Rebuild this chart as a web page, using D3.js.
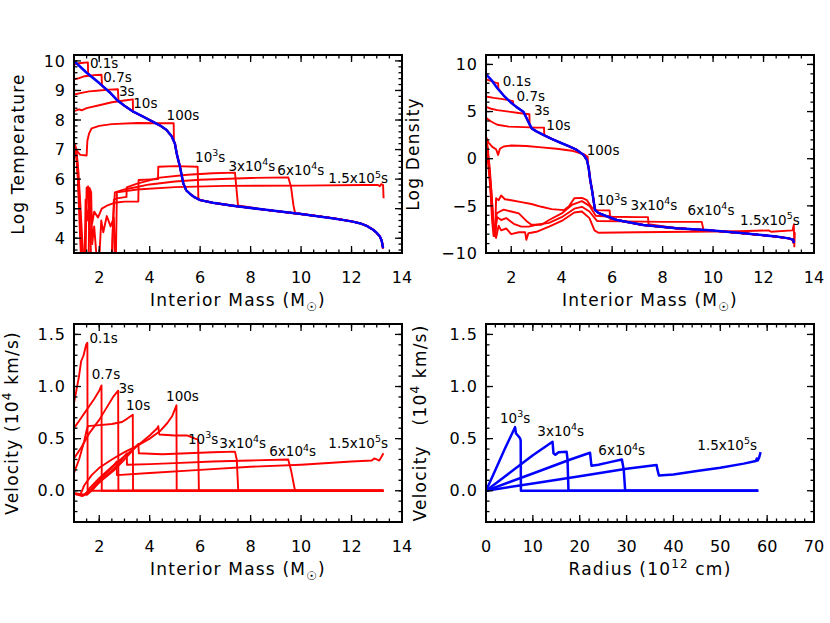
<!DOCTYPE html>
<html>
<head>
<meta charset="utf-8">
<script src="https://cdn.jsdelivr.net/npm/d3@7"></script>
<style>
body{margin:0;background:#fff;}
text{font-family:"DejaVu Sans",sans-serif;fill:#000;}
</style>
</head>
<body>
<div id="chart"></div>
<script>
// ---- values ----
var timeLabels = ['0.1s','0.7s','3s','10s','100s','10^3s','3x10^4s','6x10^4s','1.5x10^5s'];
var lateLabels = ['10^3s','3x10^4s','6x10^4s','1.5x10^5s'];

// tick labels
var massTicks = [2,4,6,8,10,12,14];
var tempTicks = [4,5,6,7,8,9,10];
var densTicks = [-10,-5,0,5,10];
var velTicks = [0,0.5,1.0,1.5];
var radTicks = [0,10,20,30,40,50,60,70];

// progenitor (blue), log T vs interior mass
var progMassT = [1.0,1.1,1.5,2.0,2.4,2.7,3.0,3.35,3.7,4.0,4.4,4.67,4.87,5.0,5.07,5.14,5.2,5.27,5.33,5.45,5.6,5.75,6.0,6.5,7.3,8.6,10.0,11.3,12.0,12.35,12.6,12.87,13.0,13.13,13.2,13.25];
var progLogT = [9.98,9.92,9.6,9.25,8.95,8.68,8.48,8.28,8.13,8.0,7.82,7.66,7.45,7.2,6.87,6.62,6.42,6.12,5.86,5.62,5.5,5.4,5.29,5.2,5.1,4.96,4.82,4.67,4.57,4.5,4.42,4.28,4.18,4.05,3.9,3.66];

// progenitor (blue), log density vs interior mass
var progMassD = [1.0,1.2,1.45,1.7,1.95,2.2,2.48,2.61,2.72,2.81,3.0,3.27,3.6,4.0,4.3,4.6,4.87,5.0,5.07,5.13,5.2,5.26,5.32,5.45,5.65,6.18,7.23,8.55,9.87,11.2,12.5,13.0,13.18,13.2];
var progLogRho = [8.95,8.4,7.47,6.7,6.05,5.5,4.99,4.29,3.7,3.22,2.9,2.52,2.1,1.64,1.3,0.93,0.4,-0.13,-1.0,-2.26,-3.3,-4.38,-5.44,-5.75,-5.97,-6.5,-7.03,-7.38,-7.6,-7.9,-8.26,-8.45,-8.6,-8.95];

// log T at each time [mass, logT]
var temp_0p1s = [[1.0,9.88],[1.2,9.92],[1.37,9.94],[1.55,9.95],[1.56,9.58]];
var temp_0p7s = [[1.0,9.38],[1.2,9.42],[1.4,9.48],[1.63,9.5],[1.8,9.52],[2.09,9.53],[2.11,9.17]];
var temp_3s = [[1.0,8.86],[1.3,8.92],[1.6,8.97],[2.0,9.0],[2.4,9.03],[2.74,9.04],[2.76,8.68]];
var temp_10s = [[1.0,8.3],[1.2,8.36],[1.3,8.33],[1.5,8.4],[2.0,8.5],[2.5,8.6],[3.0,8.66],[3.33,8.7],[3.34,8.27]];
var temp_100s = [[1.0,7.25],[1.12,6.95],[1.25,6.82],[1.5,6.8],[1.53,7.3],[1.6,7.55],[1.7,7.72],[2.0,7.8],[2.5,7.86],[3.5,7.9],[4.5,7.89],[4.95,7.89],[4.96,7.3]];
var temp_1e3s = [[1.0,7.05],[1.1,6.95],[1.18,6.2],[1.26,5.0],[1.33,3.9],[1.38,3.3],[1.46,3.3],[1.5,5.7],[1.56,5.75],[1.6,4.3],[1.66,5.1],[1.72,4.5],[1.8,4.9],[1.95,4.7],[2.1,5.0],[2.3,5.1],[2.6,5.2],[3.0,5.24],[3.55,5.24],[3.56,5.97],[4.33,6.0],[4.34,6.42],[5.0,6.44],[5.9,6.42],[5.93,5.33]];
var temp_3e4s = [[1.0,6.95],[1.12,6.7],[1.2,5.6],[1.28,4.2],[1.33,3.3],[1.58,3.3],[1.62,5.7],[1.68,5.55],[1.72,3.8],[1.8,4.4],[1.9,3.3],[2.5,3.3],[2.58,5.3],[2.7,5.35],[3.08,5.4],[3.09,5.72],[3.5,5.85],[4.4,6.05],[5.5,6.15],[6.5,6.2],[7.38,6.22],[7.5,5.11]];
var temp_6e4s = [[1.0,7.0],[1.1,6.8],[1.2,5.4],[1.28,3.8],[1.32,3.3],[1.42,3.3],[1.46,5.3],[1.52,4.6],[1.6,5.1],[1.68,3.3],[2.5,3.3],[2.55,4.6],[2.62,5.55],[3.0,5.65],[4.0,5.82],[5.0,5.92],[6.0,5.98],[8.0,6.04],[9.49,6.06],[9.6,5.75],[9.7,5.1],[9.76,4.86]];
var temp_1p5e5s = [[1.0,7.0],[1.08,6.9],[1.15,6.1],[1.22,4.5],[1.28,3.3],[2.0,3.3],[2.08,4.6],[2.16,4.2],[2.3,4.75],[2.45,4.4],[2.58,4.7],[2.62,3.3],[2.66,3.3],[2.7,5.55],[3.5,5.65],[5.0,5.73],[7.0,5.77],[10.0,5.78],[12.5,5.8],[13.05,5.8],[13.12,5.76],[13.18,5.83],[13.25,5.8],[13.27,5.35]];

// log density at each time [mass, logRho]
var dens_0p1s = [[1.0,8.4],[1.2,8.25],[1.4,8.05],[1.48,8.0],[1.49,7.45]];
var dens_0p7s = [[1.0,6.6],[1.3,6.45],[1.6,6.35],[1.9,6.22],[2.07,6.1],[2.08,5.75]];
var dens_3s = [[1.0,5.5],[1.2,5.3],[1.45,5.15],[1.9,5.0],[2.3,4.85],[2.72,4.72],[2.73,3.55]];
var dens_10s = [[1.0,4.35],[1.2,3.95],[1.45,3.6],[1.9,3.4],[2.5,3.35],[3.0,3.3],[3.3,3.3],[3.31,2.5]];
var dens_100s = [[1.0,2.3],[1.1,1.7],[1.25,1.25],[1.4,1.0],[1.48,0.4],[1.55,1.05],[1.7,1.3],[2.0,1.4],[2.6,1.35],[3.2,1.2],[3.8,1.05],[4.4,0.85],[4.9,0.45],[5.03,0.2],[5.04,-0.5]];
var dens_1e3s = [[1.0,2.4],[1.08,1.0],[1.16,-2.5],[1.24,-6.5],[1.3,-8.2],[1.36,-8.2],[1.4,-4.2],[1.5,-4.4],[1.6,-3.9],[1.75,-4.3],[2.0,-4.4],[2.4,-4.6],[2.8,-4.8],[3.2,-5.1],[3.6,-5.35],[4.1,-5.45],[4.3,-5.0],[4.5,-4.2],[4.8,-4.15],[5.0,-4.4],[5.2,-5.2],[5.4,-5.45],[5.9,-5.5],[5.92,-6.4]];
var dens_3e4s = [[1.0,2.2],[1.15,-1.0],[1.25,-5.0],[1.32,-7.8],[1.38,-8.2],[1.42,-5.8],[1.55,-5.6],[1.7,-5.4],[2.0,-5.6],[2.3,-5.8],[2.6,-6.6],[2.8,-7.0],[3.2,-7.0],[3.5,-6.5],[4.0,-5.8],[4.4,-4.9],[4.8,-4.5],[5.1,-5.0],[5.35,-6.05],[6.0,-6.15],[7.0,-6.2],[7.42,-6.2],[7.44,-6.95]];
var dens_6e4s = [[1.0,2.1],[1.2,-3.0],[1.3,-7.0],[1.36,-7.6],[1.45,-6.2],[1.6,-6.5],[1.8,-6.3],[2.1,-6.9],[2.4,-7.2],[2.7,-7.2],[3.0,-7.0],[3.5,-6.8],[4.0,-6.2],[4.5,-5.3],[4.8,-5.1],[5.1,-5.6],[5.4,-6.6],[6.5,-6.65],[8.0,-6.7],[9.55,-6.7],[9.62,-7.55]];
var dens_1p5e5s = [[1.0,2.0],[1.22,-4.5],[1.32,-7.9],[1.4,-8.4],[1.5,-7.1],[1.6,-7.6],[1.8,-7.4],[2.0,-8.0],[2.3,-7.8],[2.55,-7.8],[2.6,-8.6],[2.68,-7.9],[3.0,-7.75],[3.5,-7.2],[4.0,-6.6],[4.5,-5.7],[4.8,-5.6],[5.1,-6.3],[5.3,-7.6],[5.45,-7.85],[7.0,-7.8],[9.0,-7.75],[11.0,-7.7],[12.2,-7.6],[12.3,-7.75],[13.15,-7.6],[13.2,-7.0],[13.22,-9.3],[13.24,-7.8]];

// velocity (10^4 km/s) vs interior mass
var vel_0p1s = [[1.0,0.84],[1.1,0.97],[1.2,1.1],[1.28,1.24],[1.38,1.3],[1.48,1.4],[1.53,1.42],[1.54,0.0],[13.26,0.0]];
var vel_0p7s = [[1.0,0.6],[1.2,0.67],[1.4,0.74],[1.6,0.81],[1.8,0.88],[2.0,0.96],[2.09,1.01],[2.1,0.0],[13.26,0.0]];
var vel_3s = [[1.0,0.31],[1.3,0.42],[1.6,0.55],[2.0,0.68],[2.3,0.8],[2.55,0.9],[2.75,0.96],[2.76,0.0],[13.26,0.0]];
var vel_10s = [[1.0,0.17],[1.2,0.3],[1.4,0.47],[1.5,0.58],[1.55,0.62],[2.0,0.63],[2.5,0.64],[2.9,0.66],[3.1,0.69],[3.33,0.73],[3.34,0.0],[13.26,0.0]];
var vel_100s = [[1.0,-0.03],[1.25,-0.04],[1.4,0.05],[1.7,0.15],[2.0,0.22],[2.5,0.3],[3.0,0.37],[3.5,0.43],[4.0,0.5],[4.4,0.57],[4.7,0.65],[4.9,0.72],[5.06,0.82],[5.07,0.0],[13.26,0.0]];
var vel_1e3s = [[1.0,-0.03],[1.2,-0.03],[1.35,-0.05],[1.5,-0.02],[1.6,0.02],[2.0,0.12],[2.5,0.23],[3.0,0.33],[3.5,0.43],[4.0,0.53],[4.3,0.6],[4.34,0.62],[4.38,0.54],[5.0,0.53],[5.5,0.53],[5.8,0.5],[5.92,0.49],[5.95,0.0],[13.26,0.0]];
var vel_3e4s = [[1.0,-0.02],[1.4,-0.04],[1.6,-0.01],[1.8,0.04],[2.2,0.12],[2.6,0.2],[3.0,0.3],[3.3,0.38],[3.55,0.45],[3.57,0.36],[4.5,0.35],[5.5,0.36],[6.5,0.37],[7.38,0.375],[7.45,0.3],[7.51,0.0],[13.26,0.0]];
var vel_6e4s = [[1.0,-0.03],[1.5,-0.04],[1.7,0.0],[2.0,0.08],[2.4,0.17],[2.8,0.27],[3.09,0.36],[3.1,0.25],[4.0,0.255],[5.0,0.265],[6.5,0.28],[8.0,0.29],[9.49,0.3],[9.6,0.2],[9.76,0.0],[13.26,0.0]];
var vel_1p5e5s = [[1.0,-0.03],[1.3,-0.05],[1.5,-0.02],[1.7,0.02],[2.0,0.1],[2.3,0.17],[2.6,0.25],[2.69,0.28],[2.7,0.15],[4.0,0.17],[6.0,0.2],[8.0,0.23],[10.0,0.25],[12.0,0.28],[12.8,0.29],[12.9,0.31],[13.0,0.3],[13.1,0.29],[13.2,0.33],[13.26,0.36]];

// velocity vs radius (10^12 cm)
var vrad_1e3s = [[0,0],[2,0.2],[4,0.4],[6.0,0.59],[6.2,0.61],[6.4,0.55],[6.6,0.54],[7.0,0.52],[7.3,0.5],[7.4,0.48],[7.45,0.0],[58.1,0.0]];
var vrad_3e4s = [[0,0],[5,0.17],[10,0.34],[14.2,0.47],[14.4,0.36],[14.8,0.345],[15.5,0.37],[17.2,0.375],[17.4,0.3],[17.6,0.0],[58.1,0.0]];
var vrad_6e4s = [[0,0],[10,0.165],[18,0.3],[22.2,0.365],[22.5,0.24],[24,0.25],[26,0.27],[29.0,0.3],[29.4,0.2],[29.7,0.0],[58.1,0.0]];
var vrad_1p5e5s = [[0,0],[10,0.07],[20,0.14],[30,0.21],[36.4,0.247],[36.6,0.2],[36.9,0.146],[40,0.155],[45,0.19],[50,0.22],[55,0.26],[57.6,0.285],[57.8,0.31],[58.0,0.29],[58.3,0.32],[58.6,0.37]];

// label anchors (data units)
var labelMassT = [1.63,2.16,2.78,3.35,4.67,5.80,7.12,9.06,11.08];
var labelLogT = [9.76,9.29,8.80,8.40,8.0,6.59,6.27,6.14,5.86];
var labelMassD = [1.66,2.21,2.90,3.39,4.99,5.40,6.73,8.99,11.07];
var labelLogRho = [7.71,6.15,4.64,3.05,0.40,-4.96,-5.44,-5.97,-7.03];
var labelMassV = [1.61,1.70,2.76,3.06,4.65,5.52,6.76,8.74,11.08];
var labelVel = [1.415,1.07,0.94,0.77,0.86,0.45,0.41,0.33,0.41];
var labelRad = [2.99,10.95,23.97,45.1];
var labelVelR = [0.653,0.525,0.34,0.395];

// ---- drawing ----
var RED = '#ff0000', BLUE = '#0000ff';
var svg = d3.select('#chart').append('svg')
  .attr('width', 830)
  .attr('height', 623);

function zip(a, b){ return a.map(function(v,i){ return [v, b[i]]; }); }

// red curves continue on the progenitor profile beyond the shock
function behindShock(curve, prog){
  var last = curve[curve.length-1][0];
  return curve.concat(prog.filter(function(d){ return d[0] > last; }));
}

// text with ^x superscripts and _x subscripts
function rich(t, s, fs){
  var parts = s.split(/(\^\{[^}]*\}|\^.|_.)/);
  var back = 0;
  parts.forEach(function(p){
    if (!p) return;
    if (p[0] === '^' || p[0] === '_'){
      var txt = p[1] === '{' ? p.slice(2,-1) : p.slice(1);
      var d = p[0] === '^' ? -0.42*fs : 0.28*fs;
      t.append('tspan').attr('dy', d).attr('font-size', fs*0.7).text(txt);
      back = -d;
    } else {
      t.append('tspan').attr('dy', back).text(p);
      back = 0;
    }
  });
}

var progT = zip(progMassT, progLogT);
var progD = zip(progMassD, progLogRho);

var panels = [
  {id:'a', x0:74, x1:402, y0:55, y1:253, xdom:[1,14], ydom:[3.5,10.2],
   xt:massTicks, xminor:0.5, yt:tempTicks, yminor:0.2, yfmt:d3.format('d'),
   xtitle:'Interior Mass (M_\u2609)', ytitle:'Log Temperature', ytx:24,
   curves:[temp_0p1s,temp_0p7s,temp_3s,temp_10s,temp_100s,temp_1e3s,temp_3e4s,temp_6e4s,temp_1p5e5s]
     .map(function(c){ return {d:behindShock(c, progT), c:RED}; })
     .concat([{d:progT, c:BLUE}]),
   labels:timeLabels, lx:labelMassT, ly:labelLogT},
  {id:'b', x0:486, x1:814, y0:55, y1:253, xdom:[1,14], ydom:[-10,11],
   xt:massTicks, xminor:0.5, yt:densTicks, yminor:1, yfmt:d3.format('d'),
   xtitle:'Interior Mass (M_\u2609)', ytitle:'Log Density', ytx:419,
   curves:[dens_0p1s,dens_0p7s,dens_3s,dens_10s,dens_100s,dens_1e3s,dens_3e4s,dens_6e4s,dens_1p5e5s]
     .map(function(c){ return {d:behindShock(c, progD), c:RED}; })
     .concat([{d:progD, c:BLUE}]),
   labels:timeLabels, lx:labelMassD, ly:labelLogRho},
  {id:'c', x0:74, x1:402, y0:324, y1:522, xdom:[1,14], ydom:[-0.3,1.6],
   xt:massTicks, xminor:0.5, yt:velTicks, yminor:0.1, yfmt:d3.format('.1f'),
   xtitle:'Interior Mass (M_\u2609)', ytitle:'Velocity (10^4 km/s)', ytx:18,
   curves:[vel_0p1s,vel_0p7s,vel_3s,vel_10s,vel_100s,vel_1e3s,vel_3e4s,vel_6e4s,vel_1p5e5s]
     .map(function(c){ return {d:c, c:RED}; }),
   labels:timeLabels, lx:labelMassV, ly:labelVel},
  {id:'d', x0:486, x1:814, y0:324, y1:522, xdom:[0,70], ydom:[-0.3,1.6],
   xt:radTicks, xminor:2, yt:velTicks, yminor:0.1, yfmt:d3.format('.1f'),
   xtitle:'Radius (10^{12} cm)', ytitle:'Velocity   (10^4 km/s)', ytx:426,
   curves:[vrad_1e3s,vrad_3e4s,vrad_6e4s,vrad_1p5e5s]
     .map(function(c){ return {d:c, c:BLUE}; }),
   labels:lateLabels, lx:labelRad, ly:labelVelR}
];

panels.forEach(function(p){
  var x = d3.scaleLinear().domain(p.xdom).range([p.x0, p.x1]);
  var y = d3.scaleLinear().domain(p.ydom).range([p.y1, p.y0]);
  var g = svg.append('g');

  g.append('clipPath').attr('id', 'clip'+p.id).append('rect')
    .attr('x', p.x0).attr('y', p.y0)
    .attr('width', p.x1-p.x0).attr('height', p.y1-p.y0);

  var line = d3.line().x(function(d){ return x(d[0]); }).y(function(d){ return y(d[1]); });
  var plot = g.append('g').attr('clip-path', 'url(#clip'+p.id+')');
  plot.selectAll('path').data(p.curves).enter().append('path')
    .attr('d', function(c){ return line(c.d); })
    .attr('fill', 'none')
    .attr('stroke', function(c){ return c.c; })
    .attr('stroke-width', function(c){ return c.c === BLUE ? 2.5 : 1.9; })
    .attr('stroke-linejoin', 'round');

  // ticks on all four sides, pointing inward
  var eps = 1e-6;
  var xminors = d3.range(p.xdom[0], p.xdom[1]+eps, p.xminor);
  var yminors = d3.range(Math.ceil(p.ydom[0]/p.yminor-eps)*p.yminor, p.ydom[1]+eps, p.yminor);
  var tk = g.append('g').attr('stroke', '#000').attr('stroke-width', 1.3);
  function xt(v, len){
    tk.append('line').attr('x1', x(v)).attr('x2', x(v)).attr('y1', p.y1).attr('y2', p.y1-len);
    tk.append('line').attr('x1', x(v)).attr('x2', x(v)).attr('y1', p.y0).attr('y2', p.y0+len);
  }
  function yt(v, len){
    tk.append('line').attr('y1', y(v)).attr('y2', y(v)).attr('x1', p.x0).attr('x2', p.x0+len);
    tk.append('line').attr('y1', y(v)).attr('y2', y(v)).attr('x1', p.x1).attr('x2', p.x1-len);
  }
  xminors.forEach(function(v){ xt(v, 3.5); });
  yminors.forEach(function(v){ yt(v, 3.5); });
  p.xt.forEach(function(v){ xt(v, 7); });
  p.yt.forEach(function(v){ yt(v, 7); });

  g.append('rect')
    .attr('x', p.x0).attr('y', p.y0)
    .attr('width', p.x1-p.x0).attr('height', p.y1-p.y0)
    .attr('fill', 'none').attr('stroke', '#000').attr('stroke-width', 2);

  // tick labels
  g.selectAll('.xl').data(p.xt).enter().append('text')
    .attr('x', function(d){ return x(d); }).attr('y', p.y1+30)
    .attr('text-anchor', 'middle').attr('font-size', 16)
    .text(function(d){ return d; });
  g.selectAll('.yl').data(p.yt).enter().append('text')
    .attr('x', p.x0-8).attr('y', function(d){ return y(d); }).attr('dy', '0.36em')
    .attr('text-anchor', 'end').attr('font-size', 16).attr('letter-spacing', 1)
    .text(function(d){ return p.yfmt(d); });

  // axis titles
  var xtl = g.append('text')
    .attr('x', (p.x0+p.x1)/2).attr('y', p.y1+53)
    .attr('text-anchor', 'middle').attr('font-size', 17).attr('letter-spacing', 1.2)
    .style('white-space', 'pre');
  rich(xtl, p.xtitle, 17);
  var ytl = g.append('text')
    .attr('transform', 'translate(' + p.ytx + ',' + (p.y0+p.y1)/2 + ') rotate(-90)')
    .attr('dy', '0.36em')
    .attr('text-anchor', 'middle').attr('font-size', 17).attr('letter-spacing', 1.2)
    .style('white-space', 'pre');
  rich(ytl, p.ytitle, 17);

  // time annotations
  p.labels.forEach(function(s, i){
    var t = g.append('text')
      .attr('x', x(p.lx[i])).attr('y', y(p.ly[i]))
      .attr('font-size', 13.5);
    rich(t, s, 13.5);
  });
});
</script>
</body>
</html>
